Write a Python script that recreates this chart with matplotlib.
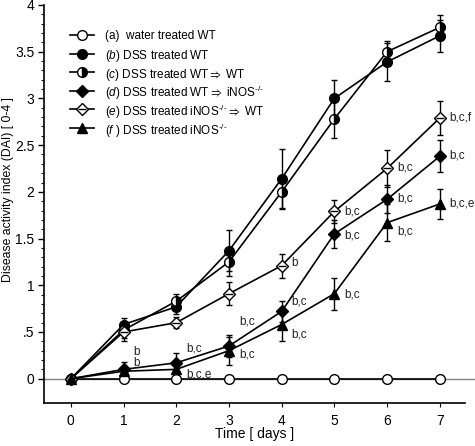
import matplotlib
matplotlib.use("Agg")
import matplotlib.pyplot as plt
import numpy as np
from matplotlib.ticker import FixedLocator
from matplotlib.lines import Line2D

plt.rcParams['font.family'] = ['Liberation Sans', 'DejaVu Sans']
plt.rcParams['mathtext.fontset'] = 'custom'
plt.rcParams['mathtext.it'] = 'Liberation Sans:italic'
plt.rcParams['mathtext.rm'] = 'Liberation Sans'
plt.rcParams['mathtext.fallback'] = 'stixsans'

days = [0, 1, 2, 3, 4, 5, 6, 7]

a_vals = [0, 0, 0, 0, 0, 0, 0, 0]
a_err = [0, 0, 0, 0, 0, 0, 0, 0]
b_vals = [0, 0.58, 0.77, 1.37, 2.14, 3.00, 3.39, 3.67]
b_err = [0, 0.07, 0.08, 0.22, 0.32, 0.20, 0.20, 0.17]
c_vals = [0, 0.52, 0.83, 1.25, 2.00, 2.78, 3.50, 3.76]
c_err = [0, 0.08, 0.08, 0.15, 0.17, 0.20, 0.12, 0.13]
d_vals = [0, 0.10, 0.17, 0.35, 0.72, 1.55, 1.92, 2.38]
d_err = [0, 0.08, 0.11, 0.12, 0.11, 0.15, 0.15, 0.17]
e_vals = [0, 0.50, 0.60, 0.91, 1.21, 1.79, 2.25, 2.79]
e_err = [0, 0.10, 0.06, 0.12, 0.13, 0.12, 0.20, 0.18]
f_vals = [0, 0.08, 0.10, 0.30, 0.58, 0.91, 1.67, 1.87]
f_err = [0, 0.05, 0.06, 0.15, 0.18, 0.17, 0.20, 0.16]

KO = "$^{\\text{-/-}}$"
ARR = "$\\Rightarrow$"
legend_labels = [
    "(a)  water treated WT",
    "($\\it{b}$) DSS treated WT",
    "($\\it{c}$) DSS treated WT" + ARR + " WT",
    "($\\it{d}$) DSS treated WT" + ARR + " iNOS" + KO,
    "($\\it{e}$) DSS treated iNOS" + KO + ARR + " WT",
    "($\\it{f}$ ) DSS treated iNOS" + KO,
]

annotations = [
    (1, 0.29, "b"), (1, 0.17, "b"),
    (2, 0.32, "b,c"), (2, 0.05, "b,c,e"),
    (3, 0.61, "b,c"), (3, 0.26, "b,c"),
    (4, 1.24, "b"), (4, 0.83, "b,c"), (4, 0.47, "b,c"),
    (5, 1.79, "b,c"), (5, 1.53, "b,c"), (5, 0.90, "b,c"),
    (6, 2.26, "b,c"), (6, 1.93, "b,c"), (6, 1.58, "b,c"),
    (7, 2.80, "b,c,f"), (7, 2.39, "b,c"), (7, 1.88, "b,c,e"),
]

W, H = 475, 446
fig = plt.figure(figsize=(W/100, H/100), dpi=100)
ax = fig.add_axes([44/W, 43/H, (465-44)/W, (403-5)/H])

ax.set_xlim(-0.51, 7.48)
ax.set_ylim(-0.26, 4.0)

# gray zero line
ax.plot([-0.51, 7.75], [0, 0], color='#808080', lw=1.0, zorder=1, clip_on=False)

ms = 7
lw = 1.2
common = dict(color='black', lw=lw, capsize=2.5, elinewidth=1.0, capthick=1.0, zorder=3)

styles = [
    dict(marker='o', ms=ms, mfc='white', mec='black'),
    dict(marker='o', ms=ms, mfc='black', mec='black'),
    dict(marker='o', ms=ms, mfc='black', mec='black', fillstyle='right', markerfacecoloralt='white'),
    dict(marker='D', ms=ms-1, mfc='black', mec='black'),
    dict(marker='D', ms=ms-1, mfc='white', mec='black'),
    dict(marker='^', ms=ms, mfc='black', mec='black'),
]
series = [(a_vals, a_err), (b_vals, b_err), (c_vals, c_err),
          (d_vals, d_err), (e_vals, e_err), (f_vals, f_err)]

for (v, e), st in zip(series, styles):
    ax.errorbar(days, v, yerr=e, **st, **common)
ax.plot(days, e_vals, ls='none', marker='_', ms=ms-1, mew=1.0, color='black', zorder=4)

for x, y, t in annotations:
    ax.text(x + 0.19, y, t, fontsize=8.5, ha='left', va='center', color='#222222')

# manual legend (pixel positions converted to figure fraction)
leg_rows = [35, 53.6, 72.2, 90.8, 109.4, 128]
for i, (st, lab) in enumerate(zip(styles, legend_labels)):
    yy = 1 - leg_rows[i] / H
    fig.add_artist(Line2D([70/W, 82/W, 94/W], [yy, yy, yy], color='black', lw=lw,
                          markevery=[1], **st))
    if i == 4:
        fig.add_artist(Line2D([82/W], [yy], ls='none', marker='_', ms=ms-1, mew=1.0, color='black'))
    fig.text(105/W, yy, lab, fontsize=8.5, ha='left', va='center_baseline')

for s in ['top', 'right']:
    ax.spines[s].set_visible(False)
for s in ['left', 'bottom']:
    ax.spines[s].set_linewidth(1.2)

ax.set_xticks(days)
ax.set_xticklabels([str(d) for d in days])
ax.set_yticks([0, 0.5, 1, 1.5, 2, 2.5, 3, 3.5, 4])
ax.set_yticklabels(['0', '.5', '1', '1.5', '2', '2.5', '3', '3.5', '4'])
ax.yaxis.set_minor_locator(FixedLocator(np.round(np.arange(0.1, 4.0, 0.1), 2)))
ax.tick_params(axis='both', labelsize=10, direction='out')
ax.tick_params(axis='y', which='major', length=4, width=1.0, pad=3)
ax.tick_params(axis='x', which='major', length=3, width=0.8, pad=5)
ax.tick_params(axis='y', which='minor', length=2, width=0.8)

ax.set_xlabel('Time [ days ]', fontsize=10, labelpad=-1)
ax.set_ylabel('Disease activity index (DAI) [ 0-4 ]', fontsize=8.8)
ax.yaxis.set_label_coords((14.5 - 44) / (465 - 44), (403 - 190) / 398)

fig.savefig('out.png', dpi=100)
